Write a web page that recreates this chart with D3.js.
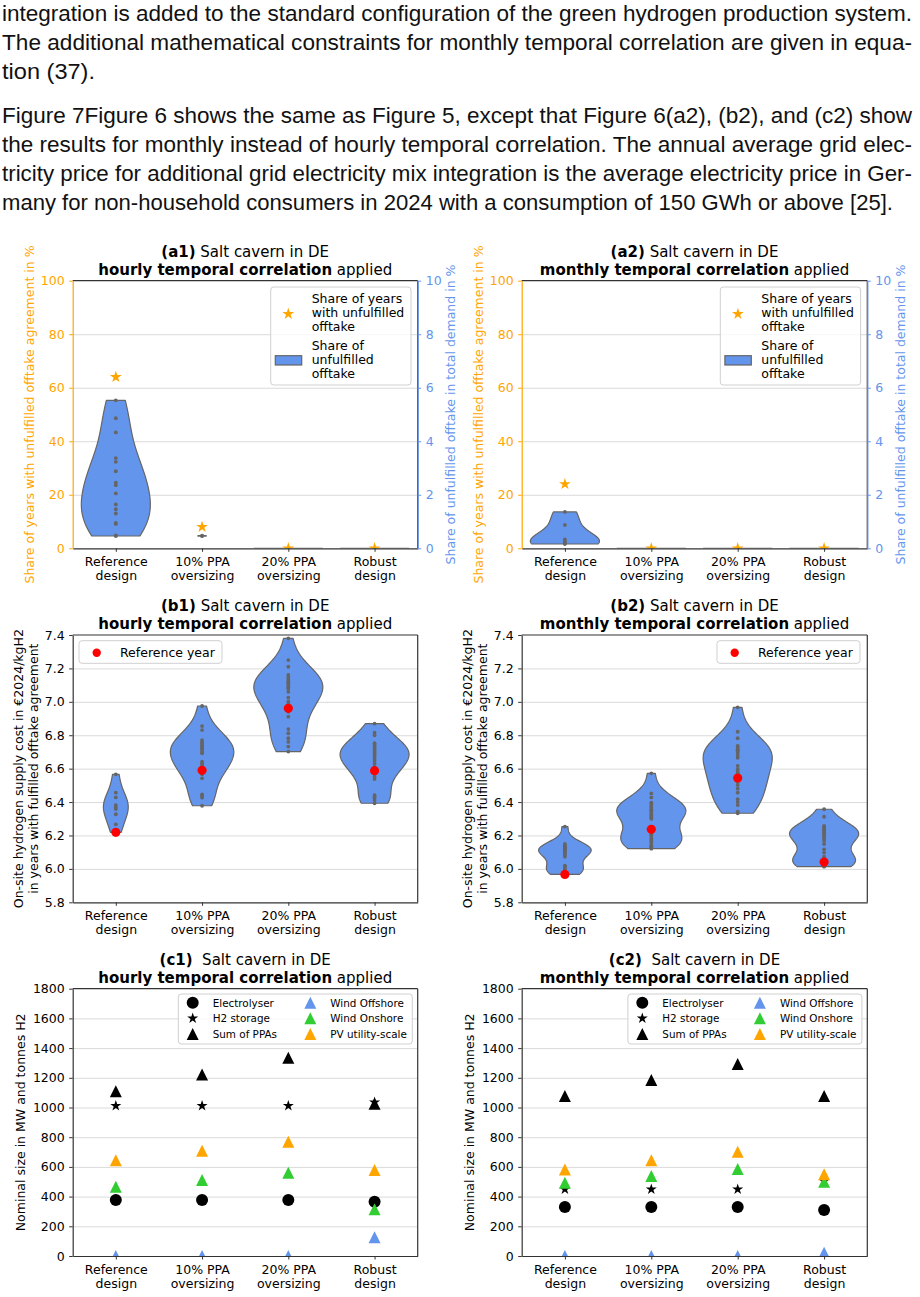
<!DOCTYPE html>
<html>
<head>
<meta charset="utf-8">
<script src="https://cdn.jsdelivr.net/npm/d3@7"></script>
<style>
  body { margin: 0; background: #fff; }
  svg { display: block; }
  text { font-family: "DejaVu Sans", sans-serif; fill: #000; }
  .para { font-family: "Liberation Sans", Arial, sans-serif; font-size: 22.5px; fill: #111; }
</style>
</head>
<body>
<svg id="fig" width="920" height="1297"></svg>
<script>
// ---- text above the figure ----
var paraLines = [
  "integration is added to the standard configuration of the green hydrogen production system.",
  "The additional mathematical constraints for monthly temporal correlation are given in equa-",
  "tion (37).",
  "Figure 7Figure 6 shows the same as Figure 5, except that Figure 6(a2), (b2), and (c2) show",
  "the results for monthly instead of hourly temporal correlation. The annual average grid elec-",
  "tricity price for additional grid electricity mix integration is the average electricity price in Ger-",
  "many for non-household consumers in 2024 with a consumption of 150 GWh or above [25]."
];
var paraBaselines = [21, 50, 79, 123, 152, 181, 210];
var paraRight = [912, 912, 95, 912, 912, 912, 893];

// ---- chart data ----
var categories = [["Reference", "design"], ["10% PPA", "oversizing"], ["20% PPA", "oversizing"], ["Robust", "design"]];

// (a) share of unfulfilled offtake in total demand, % (right axis), one value per year
var a1Offtake = [
  [5.53, 4.86, 4.33, 3.37, 3.23, 2.88, 2.45, 2.36, 2.05, 1.64, 1.46, 1.30, 0.95, 0.91, 0.48, 0.46],
  [0.455, 0.47],
  [0],
  [0]
];
var a2Offtake = [
  [1.36, 0.87, 0.33, 0.25, 0.20, 0.16],
  [0],
  [0],
  [0]
];
// share of years with unfulfilled offtake agreement, % (left axis)
var a1ShareYears = [64, 8, 0, 0];
var a2ShareYears = [24, 0, 0, 0];

// (b) on-site hydrogen supply cost, EUR2024/kgH2, years with fulfilled offtake
var b1Cost = [
  [6.566, 6.456, 6.428, 6.382, 6.368, 6.358, 6.327, 6.267, 6.219],
  [6.975, 6.855, 6.831, 6.771, 6.760, 6.752, 6.740, 6.732, 6.722, 6.712, 6.700, 6.692, 6.642, 6.630, 6.622, 6.605, 6.590, 6.566, 6.542, 6.446, 6.436, 6.426, 6.378],
  [7.380, 7.250, 7.210, 7.161, 7.150, 7.137, 7.128, 7.117, 7.108, 7.097, 7.087, 7.077, 7.060, 7.025, 7.001, 6.985, 6.961, 6.940, 6.911, 6.837, 6.812, 6.782, 6.760, 6.732, 6.702],
  [6.869, 6.815, 6.800, 6.752, 6.742, 6.732, 6.722, 6.712, 6.702, 6.692, 6.682, 6.672, 6.660, 6.646, 6.630, 6.610, 6.588, 6.570, 6.552, 6.538, 6.442, 6.432, 6.426, 6.412, 6.393]
];
var b2Cost = [
  [6.253, 6.149, 6.140, 6.133, 6.128, 6.122, 6.117, 6.110, 6.101, 6.095, 6.085, 6.073, 6.020, 6.013, 6.005, 5.993, 5.985, 5.975, 5.967],
  [6.572, 6.452, 6.428, 6.396, 6.390, 6.376, 6.370, 6.356, 6.350, 6.340, 6.329, 6.320, 6.309, 6.300, 6.237, 6.220, 6.209, 6.200, 6.183, 6.170, 6.160, 6.143, 6.135, 6.128, 6.121],
  [6.967, 6.821, 6.782, 6.736, 6.730, 6.716, 6.710, 6.702, 6.690, 6.676, 6.665, 6.616, 6.596, 6.580, 6.572, 6.544, 6.520, 6.502, 6.480, 6.456, 6.417, 6.400, 6.382, 6.342, 6.333],
  [6.357, 6.312, 6.257, 6.250, 6.243, 6.236, 6.229, 6.220, 6.213, 6.200, 6.193, 6.180, 6.169, 6.149, 6.117, 6.097, 6.073, 6.057, 6.050, 6.041, 6.035, 6.028, 6.020, 6.016, 6.013]
];
var b1RefYear = [6.219, 6.590, 6.961, 6.588];
var b2RefYear = [5.967, 6.237, 6.544, 6.041];

// (c) nominal sizes, MW and tonnes H2
var cSeries = ["Electrolyser", "H2 storage", "Sum of PPAs", "Wind Offshore", "Wind Onshore", "PV utility-scale"];
var c1Electrolyser = [377, 377, 377, 366];
var c1Storage = [1012, 1012, 1012, 1035];
var c1SumPPA = [1110, 1223, 1335, 1026];
var c1Offshore = [0, 0, 0, 126];
var c1Onshore = [467, 512, 561, 314];
var c1PV = [644, 709, 770, 579];
var c2Electrolyser = [330, 330, 330, 310];
var c2Storage = [449, 449, 449, 505];
var c2SumPPA = [1077, 1185, 1293, 1077];
var c2Offshore = [0, 0, 0, 22];
var c2Onshore = [494, 539, 586, 500];
var c2PV = [583, 644, 702, 550];

var yTicksA = [0, 20, 40, 60, 80, 100];
var yTicksARight = [0, 2, 4, 6, 8, 10];
var yTicksB = [5.8, 6.0, 6.2, 6.4, 6.6, 6.8, 7.0, 7.2, 7.4];
var yTicksC = [0, 200, 400, 600, 800, 1000, 1200, 1400, 1600, 1800];

// ---- styles ----
var ORANGE = "#FFA500", BLUE = "#6495ED", GREEN = "#32CD32", GRAY = "#656565", SPINE = "#333";
var FS = 12.5;

var svg = d3.select("#fig");

// paragraph
paraLines.forEach(function(t, i) {
  svg.append("text").attr("class", "para")
    .attr("x", 2).attr("y", paraBaselines[i])
    .attr("textLength", paraRight[i] - 2)
    .attr("lengthAdjust", "spacingAndGlyphs")
    .text(t);
});

var cols = [[72.7, 417.7], [521.7, 867.3]];
var rows = { a: [280.7, 548.3], b: [635, 902.3], c: [988.7, 1256] };
var clipId = 0;

function makePanel(col, row, domain) {
  var p = { x0: cols[col][0], x1: cols[col][1], y0: rows[row][0], y1: rows[row][1] };
  p.x = d3.scalePoint().domain(d3.range(4)).range([p.x0, p.x1]).padding(0.5);
  p.y = d3.scaleLinear().domain(domain).range([p.y1, p.y0]);
  p.g = svg.append("g");
  var id = "clip" + (clipId++);
  p.g.append("clipPath").attr("id", id).append("rect")
    .attr("x", p.x0).attr("y", p.y0).attr("width", p.x1 - p.x0).attr("height", p.y1 - p.y0);
  p.grid = p.g.append("g");
  p.plot = p.g.append("g").attr("clip-path", "url(#" + id + ")");
  p.axes = p.g.append("g");
  return p;
}

function grid(p, scale, ticks) {
  p.grid.append("g").attr("transform", "translate(" + p.x0 + ",0)")
    .call(d3.axisLeft(scale).tickValues(ticks).tickSize(-(p.x1 - p.x0)).tickFormat(""))
    .call(function(g) { g.select(".domain").remove(); })
    .selectAll("line").attr("stroke", "#dadada").attr("stroke-width", 1);
}

function styleAxis(g, color) {
  g.selectAll("text").style("font-size", FS + "px").attr("fill", color).style("fill", color);
  g.selectAll("line").attr("stroke", color).attr("stroke-width", 1);
  g.select(".domain").attr("stroke", color).attr("stroke-width", 1.2);
}

function axes(p, ticks, fmt, leftColor) {
  // top + right spines
  p.axes.append("line").attr("x1", p.x0).attr("x2", p.x1).attr("y1", p.y0).attr("y2", p.y0)
    .attr("stroke", SPINE).attr("stroke-width", 1.2);
  p.axes.append("line").attr("x1", p.x1).attr("x2", p.x1).attr("y1", p.y0).attr("y2", p.y1)
    .attr("stroke", SPINE).attr("stroke-width", 1.2);
  var bx = p.axes.append("g").attr("transform", "translate(0," + p.y1 + ")")
    .call(d3.axisBottom(p.x).tickSize(3.5).tickSizeOuter(0).tickFormat(""));
  styleAxis(bx, SPINE);
  bx.selectAll(".tick").each(function(d) {
    var t = d3.select(this).append("text").attr("text-anchor", "middle")
      .style("font-size", FS + "px").attr("fill", "#000");
    t.append("tspan").attr("x", 0).attr("y", 17.6).text(categories[d][0]);
    t.append("tspan").attr("x", 0).attr("y", 31.8).text(categories[d][1]);
  });
  var ly = p.axes.append("g").attr("transform", "translate(" + p.x0 + ",0)")
    .call(d3.axisLeft(p.y).tickValues(ticks).tickSize(3.5).tickPadding(4.5).tickSizeOuter(0).tickFormat(fmt));
  styleAxis(ly, leftColor || SPINE);
  if (!leftColor) ly.selectAll("text").style("fill", "#000");
  return ly;
}

function title(p, tag, bold) {
  var cx = (p.x0 + p.x1) / 2;
  var t1 = svg.append("text").attr("x", cx).attr("y", p.y0 - 24).attr("text-anchor", "middle")
    .style("font-size", "15px").style("white-space", "pre");
  t1.append("tspan").style("font-weight", "bold").text(tag);
  t1.append("tspan").text(tag.indexOf("(c") === 0 ? "  Salt cavern in DE" : " Salt cavern in DE");
  var t2 = svg.append("text").attr("x", cx).attr("y", p.y0 - 6).attr("text-anchor", "middle")
    .style("font-size", "15px");
  t2.append("tspan").style("font-weight", "bold").text(bold);
  t2.append("tspan").text(" applied");
}

function yLabel(x, yc, lines, color) {
  var t = svg.append("text").attr("transform", "translate(" + x + "," + yc + ") rotate(-90)")
    .attr("text-anchor", "middle").style("font-size", FS + "px").style("fill", color || "#000");
  lines.forEach(function(l, i) {
    t.append("tspan").attr("x", 0).attr("y", i * 14.7).attr("dy", "0.35em").text(l);
  });
}

// Gaussian KDE (Scott bandwidth), cut at data range, width scaled by count
function violins(p, groups, scale) {
  var maxCount = d3.max(groups, function(g) { return g.length; });
  var full = 0.4 * p.x.step();
  groups.forEach(function(vals, i) {
    var cx = p.x(i);
    var lo = d3.min(vals), hi = d3.max(vals);
    if (lo === hi) {
      p.plot.append("line").attr("x1", cx - full).attr("x2", cx + full)
        .attr("y1", scale(lo)).attr("y2", scale(lo))
        .attr("stroke", GRAY).attr("stroke-width", 1.2);
    } else {
      var n = vals.length, sd = d3.deviation(vals);
      var bw = sd * Math.pow(n, -0.2);
      var grid = d3.range(100).map(function(k) { return lo + (hi - lo) * k / 99; });
      var dens = grid.map(function(gv) {
        return d3.sum(vals, function(v) { return Math.exp(-0.5 * Math.pow((gv - v) / bw, 2)); });
      });
      var m = d3.max(dens), half = full * n / maxCount;
      var pts = grid.map(function(gv, k) { return { v: gv, w: dens[k] / m * half }; });
      var area = d3.area()
        .y(function(d) { return scale(d.v); })
        .x0(function(d) { return cx - d.w; })
        .x1(function(d) { return cx + d.w; });
      p.plot.append("path").attr("d", area(pts) + "Z")
        .attr("fill", BLUE).attr("stroke", GRAY).attr("stroke-width", 1.2).attr("stroke-linejoin", "round");
    }
    p.plot.selectAll(null).data(vals).enter().append("circle")
      .attr("cx", cx).attr("cy", function(v) { return scale(v); })
      .attr("r", 1.9).attr("fill", GRAY);
  });
}

var starSym = function(r) { return d3.symbol(d3.symbolStar, r * r / 0.8908130915292852)(); };
var triPath = function(h) { return "M0," + (-h) + "L" + h + "," + h + "L" + (-h) + "," + h + "Z"; };

function legendBox(g, x, y, w, h) {
  g.append("rect").attr("x", x).attr("y", y).attr("width", w).attr("height", h).attr("rx", 3)
    .attr("fill", "#fff").attr("fill-opacity", 0.8).attr("stroke", "#d0d0d0").attr("stroke-width", 1);
}

// ---------------- (a) panels ----------------
function panelA(col, offtake, share, tag, bold) {
  var p = makePanel(col, "a", [0, 100]);
  var yr = d3.scaleLinear().domain([0, 10]).range([p.y1, p.y0]);
  grid(p, p.y, [20, 40, 60, 80]);
  violins(p, offtake, yr);
  p.plot.selectAll(null).data(share).enter().append("path")
    .attr("transform", function(d, i) { return "translate(" + p.x(i) + "," + p.y(d) + ")"; })
    .attr("d", starSym(6.2)).attr("fill", ORANGE);
  axes(p, yTicksA, d3.format("d"), ORANGE);
  var ry = p.axes.append("g").attr("transform", "translate(" + p.x1 + ",0)")
    .call(d3.axisRight(yr).tickValues(yTicksARight).tickSize(3.5).tickPadding(4.5).tickSizeOuter(0));
  styleAxis(ry, BLUE);
  title(p, tag, bold);
  yLabel(p.x0 - 43.4, (p.y0 + p.y1) / 2, ["Share of years with unfulfilled offtake agreement in %"], ORANGE);
  yLabel(p.x1 + 33, (p.y0 + p.y1) / 2, ["Share of unfulfilled offtake in total demand in %"], BLUE);
  // legend
  var lg = svg.append("g");
  legendBox(lg, p.x1 - 147, p.y0 + 6.3, 140.3, 98);
  lg.append("path").attr("transform", "translate(" + (p.x1 - 129.4) + "," + (p.y0 + 33.3) + ")")
    .attr("d", starSym(6.2)).attr("fill", ORANGE);
  lg.append("rect").attr("x", p.x1 - 142.4).attr("y", p.y0 + 75).attr("width", 26.4).attr("height", 9.3)
    .attr("fill", BLUE).attr("stroke", GRAY).attr("stroke-width", 1.2);
  [["Share of years", "with unfulfilled", "offtake"], ["Share of", "unfulfilled", "offtake"]].forEach(function(lines, e) {
    lines.forEach(function(l, k) {
      lg.append("text").attr("x", p.x1 - 106).attr("y", p.y0 + 21.8 + e * 47 + k * 14.35)
        .style("font-size", "12.5px").text(l);
    });
  });
}
panelA(0, a1Offtake, a1ShareYears, "(a1)", "hourly temporal correlation");
panelA(1, a2Offtake, a2ShareYears, "(a2)", "monthly temporal correlation");

// ---------------- (b) panels ----------------
function panelB(col, costs, ref, tag, bold) {
  var p = makePanel(col, "b", [5.8, 7.4]);
  grid(p, p.y, yTicksB.slice(1, -1));
  violins(p, costs, p.y);
  p.plot.selectAll(null).data(ref).enter().append("circle")
    .attr("cx", function(d, i) { return p.x(i); }).attr("cy", function(d) { return p.y(d); })
    .attr("r", 4.6).attr("fill", "#FF0000");
  axes(p, yTicksB, d3.format(".1f"));
  title(p, tag, bold);
  yLabel(p.x0 - 53.7, (p.y0 + p.y1) / 2, ["On-site hydrogen supply cost in €2024/kgH2", "in years with fulfilled offtake agreement"]);
  var lg = svg.append("g");
  var bx = col === 0 ? p.x0 + 6.3 : p.x1 - 150.3;
  legendBox(lg, bx, p.y0 + 5.7, 143, 22.6);
  lg.append("circle").attr("cx", bx + 17.7).attr("cy", p.y0 + 17.7).attr("r", 4.2).attr("fill", "#FF0000");
  lg.append("text").attr("x", bx + 41).attr("y", p.y0 + 22).style("font-size", "12.5px").text("Reference year");
}
panelB(0, b1Cost, b1RefYear, "(b1)", "hourly temporal correlation");
panelB(1, b2Cost, b2RefYear, "(b2)", "monthly temporal correlation");

// ---------------- (c) panels ----------------
var cStyles = [
  { shape: "circle", color: "#000" },
  { shape: "star", color: "#000" },
  { shape: "tri", color: "#000" },
  { shape: "tri", color: BLUE },
  { shape: "tri", color: GREEN },
  { shape: "tri", color: ORANGE }
];
function marker(g, s, x, y) {
  if (s.shape === "circle") {
    g.append("circle").attr("cx", x).attr("cy", y).attr("r", 6).attr("fill", s.color);
  } else {
    g.append("path").attr("transform", "translate(" + x + "," + y + ")")
      .attr("d", s.shape === "star" ? starSym(5.8) : triPath(6)).attr("fill", s.color);
  }
}
function panelC(col, series, tag, bold) {
  var p = makePanel(col, "c", [0, 1800]);
  grid(p, p.y, yTicksC.slice(1, -1));
  series.forEach(function(vals, si) {
    vals.forEach(function(v, i) { marker(p.plot, cStyles[si], p.x(i), p.y(v)); });
  });
  axes(p, yTicksC, d3.format("d"));
  title(p, tag, bold);
  yLabel(p.x0 - 52, (p.y0 + p.y1) / 2, ["Nominal size in MW and tonnes H2"]);
  var lg = svg.append("g");
  legendBox(lg, p.x1 - 239.4, p.y0 + 5.3, 234, 50);
  cSeries.forEach(function(name, si) {
    var c = Math.floor(si / 3), r = si % 3;
    var mx = p.x1 - (c === 0 ? 225 : 107.4);
    var my = p.y0 + 14 + r * 15.65;
    marker(lg, cStyles[si], mx, my);
    lg.append("text").attr("x", mx + 20).attr("y", my + 3.8).style("font-size", "10.4px").text(name);
  });
}
panelC(0, [c1Electrolyser, c1Storage, c1SumPPA, c1Offshore, c1Onshore, c1PV], "(c1)", "hourly temporal correlation");
panelC(1, [c2Electrolyser, c2Storage, c2SumPPA, c2Offshore, c2Onshore, c2PV], "(c2)", "monthly temporal correlation");
</script>
</body>
</html>
